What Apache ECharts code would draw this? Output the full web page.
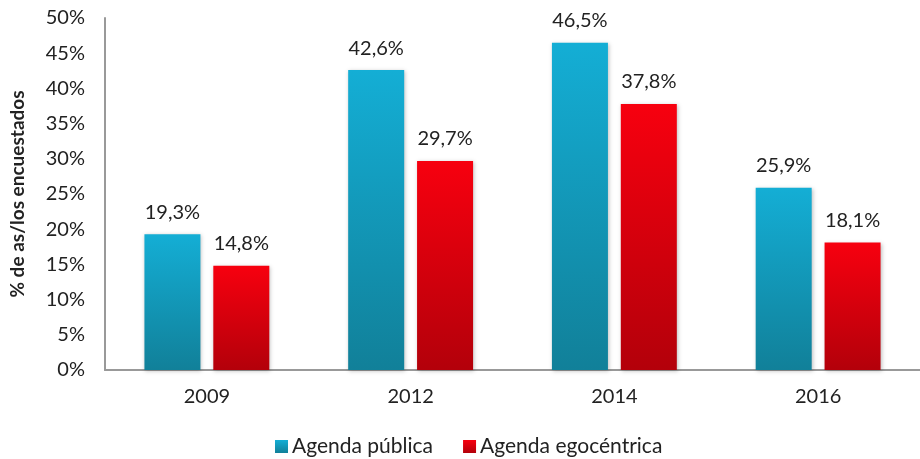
<!DOCTYPE html>
<html>
<head>
<meta charset="utf-8">
<script src="https://cdn.jsdelivr.net/npm/echarts@6/dist/echarts.min.js"></script>
<style>
  html, body { margin: 0; padding: 0; background: #fff; }
  #chart { width: 920px; height: 459px; }
</style>
</head>
<body>
<div id="chart"></div>
<script>
// data
var years = ["2009", "2012", "2014", "2016"];
var agendaPublica = [19.3, 42.6, 46.5, 25.9];
var agendaEgocentrica = [14.8, 29.7, 37.8, 18.1];
var seriesNames = ["Agenda pública", "Agenda egocéntrica"];

var FONT = "Lato, 'Open Sans', sans-serif";

function grad(top, bottom) {
  return new echarts.graphic.LinearGradient(0, 0, 0, 1, [
    { offset: 0, color: top },
    { offset: 1, color: bottom }
  ]);
}

var blue = grad("#14AED5", "#118099");
var red = grad("#F7000F", "#B3000A");

var chart = echarts.init(document.getElementById("chart"));

var labelFmt = function (p) {
  return p.value.toFixed(1).replace(".", ",") + "%";
};

var option = {
  animation: false,
  textStyle: { fontFamily: FONT },
  grid: {
    left: 102,
    width: 825,
    top: 18,
    bottom: 89,
    containLabel: false
  },
  legend: {
    bottom: -3,
    left: 270,
    itemWidth: 13,
    itemHeight: 13,
    itemGap: 30,
    icon: "rect",
    textStyle: { fontFamily: FONT, fontSize: 21, color: "#222", padding: [0, 0, 0, -1] },
    data: seriesNames
  },
  xAxis: {
    type: "category",
    data: years,
    axisLine: { lineStyle: { color: "#999", width: 2 } },
    axisTick: { show: false },
    axisLabel: { fontFamily: FONT, fontSize: 20, color: "#222", margin: 17 }
  },
  yAxis: {
    type: "value",
    min: 0,
    max: 50,
    interval: 5,
    name: "% de as/los encuestados",
    nameLocation: "middle",
    nameGap: 78,
    nameTextStyle: { fontFamily: FONT, fontSize: 19, fontWeight: "bold", color: "#222" },
    axisLine: { show: true, lineStyle: { color: "#999", width: 2 } },
    axisTick: { show: false },
    splitLine: { show: false },
    axisLabel: {
      fontFamily: FONT,
      fontSize: 20,
      color: "#222",
      margin: 20,
      formatter: "{value}%"
    }
  },
  series: [
    {
      name: seriesNames[0],
      type: "bar",
      data: agendaPublica,
      barWidth: 56,
      barGap: "23%",
      itemStyle: {
        color: blue,
        shadowColor: "rgba(0,0,0,0.25)",
        shadowBlur: 4,
        shadowOffsetX: 1,
        shadowOffsetY: 1
      },
      label: {
        show: true,
        position: "top",
        distance: 12,
        fontFamily: FONT,
        fontSize: 20,
        color: "#222",
        formatter: labelFmt
      }
    },
    {
      name: seriesNames[1],
      type: "bar",
      data: agendaEgocentrica,
      barWidth: 56,
      itemStyle: {
        color: red,
        shadowColor: "rgba(0,0,0,0.25)",
        shadowBlur: 4,
        shadowOffsetX: 1,
        shadowOffsetY: 1
      },
      label: {
        show: true,
        position: "top",
        distance: 12,
        fontFamily: FONT,
        fontSize: 20,
        color: "#222",
        formatter: labelFmt
      }
    }
  ]
};

chart.setOption(option);
</script>
</body>
</html>
